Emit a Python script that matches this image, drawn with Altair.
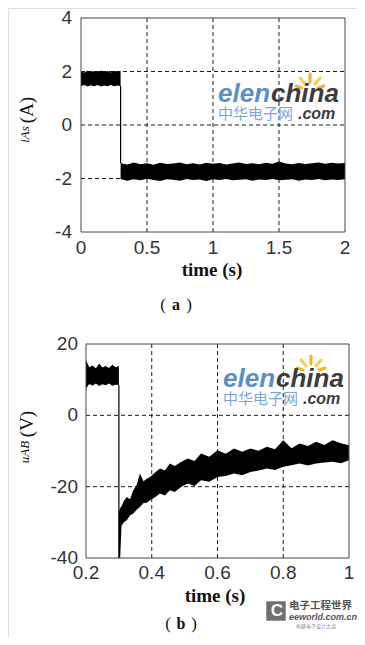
import altair as alt
import pandas as pd

# ---------------- data: panel (a) current i_As ----------------
a_t1 = [0, 0.025, 0.05, 0.075, 0.1, 0.125, 0.15, 0.175, 0.2, 0.225, 0.25, 0.275, 0.3]
a_hi1 = [2.0, 1.96, 2.03, 1.98, 2.02, 1.97, 2.04, 1.99, 2.02, 1.96, 2.03, 1.98, 2.02]
a_lo1 = [1.46, 1.5, 1.44, 1.49, 1.45, 1.5, 1.44, 1.48, 1.45, 1.5, 1.45, 1.48, 1.46]

a_t2 = [0.3, 0.35, 0.4, 0.45, 0.5, 0.55, 0.6, 0.65, 0.7, 0.75,
        0.8, 0.85, 0.9, 0.95, 1.0, 1.05, 1.1, 1.15, 1.2, 1.25,
        1.3, 1.35, 1.4, 1.45, 1.5, 1.55, 1.6, 1.65, 1.7, 1.75,
        1.8, 1.85, 1.9, 1.95, 2.0]
a_hi2 = [-1.42, -1.48, -1.40, -1.47, -1.43, -1.49, -1.41, -1.46, -1.44, -1.40,
         -1.47, -1.43, -1.48, -1.41, -1.45, -1.42, -1.48, -1.44, -1.40, -1.46,
         -1.43, -1.47, -1.41, -1.45, -1.36, -1.44, -1.47, -1.42, -1.46, -1.43,
         -1.40, -1.45, -1.41, -1.44, -1.42]
a_lo2 = [-2.02, -2.08, -2.03, -2.07, -2.01, -2.06, -2.09, -2.03, -2.05, -2.08,
         -2.02, -2.06, -2.04, -2.09, -2.03, -2.06, -2.02, -2.07, -2.05, -2.03,
         -2.08, -2.04, -2.06, -2.02, -2.07, -2.05, -2.03, -2.08, -2.04, -2.06,
         -2.02, -2.07, -2.04, -2.06, -2.03]
a_step_t = [0.3]
a_step_from = [1.46]
a_step_to = [-1.42]

a_xdomain = [0, 2]
a_ydomain = [-4, 4]
a_xticks = [0, 0.5, 1, 1.5, 2]
a_xlabels = ["0", "0.5", "1", "1.5", "2"]
a_yticks = [-4, -2, 0, 2, 4]
a_ylabels = ["-4", "-2", "0", "2", "4"]

# ---------------- data: panel (b) voltage u_AB ----------------
b_t1 = [0.2, 0.21, 0.22, 0.23, 0.24, 0.25, 0.26, 0.27, 0.28, 0.29, 0.3]
b_hi1 = [15.5, 13.5, 14.0, 13.2, 14.5, 13.4, 13.8, 13.3, 14.2, 13.5, 13.8]
b_lo1 = [7.5, 8.8, 8.3, 8.9, 8.2, 8.7, 8.4, 8.9, 8.3, 8.6, 8.5]

b_t2 = [0.300, 0.304, 0.308, 0.315, 0.324, 0.334, 0.344, 0.354, 0.364, 0.375,
        0.385, 0.395, 0.41, 0.425, 0.44, 0.455, 0.47, 0.49, 0.51, 0.53,
        0.55, 0.575, 0.6, 0.625, 0.65, 0.675, 0.7, 0.725, 0.75, 0.775,
        0.8, 0.825, 0.85, 0.875, 0.9, 0.925, 0.95, 0.975, 1.0]
b_hi2 = [-27, -26, -25.5, -24, -22.9, -23.5, -21, -19.5, -16.3, -18.5,
         -17.8, -17.3, -16.0, -14.9, -15.5, -13.5, -14.2, -13.0, -12.1, -12.8,
         -10.7, -11.6, -9.8, -10.8, -9.3, -10.2, -9.3, -9.9, -8.8, -9.5,
         -7.0, -9.2, -7.9, -8.6, -7.4, -8.3, -7.0, -7.8, -8.4]
b_lo2 = [-40, -40, -31, -30, -29.4, -28, -27.5, -26.5, -25.7, -24.6,
         -24.5, -23.8, -23.0, -21.9, -22.5, -21.0, -21.5, -20.0, -19.1, -19.8,
         -18.2, -18.6, -17.3, -17.0, -16.3, -16.8, -15.9, -15.5, -14.9, -15.3,
         -14.4, -14.0, -13.5, -14.1, -13.5, -13.2, -13.0, -13.4, -12.6]
b_step_t = [0.3]
b_step_from = [8.5]
b_step_to = [-40]

b_xdomain = [0.2, 1.0]
b_ydomain = [-40, 20]
b_xticks = [0.2, 0.4, 0.6, 0.8, 1.0]
b_xlabels = ["0.2", "0.4", "0.6", "0.8", "1"]
b_yticks = [-40, -20, 0, 20]
b_ylabels = ["-40", "-20", "0", "20"]

SERIF = "Liberation Serif"
SANS = "Liberation Sans"
CJK = "Noto Sans CJK SC"
one = pd.DataFrame({"k": [0]})

W, H = 349, 629   # whole drawing surface (page minus 8px margins)


def band_df(t1, hi1, lo1, t2, hi2, lo2):
    d1 = pd.DataFrame({"t": t1, "hi": hi1, "lo": lo1, "seg": "s1"})
    d2 = pd.DataFrame({"t": t2, "hi": hi2, "lo": lo2, "seg": "s2"})
    return pd.concat([d1, d2], ignore_index=True)


def txt(text, x, y, size, **kw):
    return alt.Chart(one).mark_text(text=text, fontSize=size, **kw).encode(
        x=alt.value(x), y=alt.value(y))


def ray(x1, y1, x2, y2, color):
    return alt.Chart(one).mark_rule(color=color, strokeWidth=3, strokeCap="round").encode(
        x=alt.value(x1), y=alt.value(y1), x2=alt.value(x2), y2=alt.value(y2))


def logo(x0, base, cx, cy):
    parts = []
    rays = [(-14, -4, -8, -2), (-10, -12, -5, -6), (0, -16, 0, -8),
            (10, -12, 5, -6), (14, -4, 8, -2)]
    cols = ["#f2b233", "#f7cf4a", "#f2b233", "#f7cf4a", "#f2b233"]
    for (dx1, dy1, dx2, dy2), c in zip(rays, cols):
        parts.append(ray(cx + dx1, cy + dy1, cx + dx2, cy + dy2, c))
    parts += [
        txt("elen", x0, base, 26, font=SANS, fontStyle="italic", fontWeight="bold",
            color="#5b8fc4", align="left", baseline="alphabetic"),
        txt("china", x0 + 53, base, 26, font=SANS, fontStyle="italic", fontWeight="bold",
            color="#3c3c3c", align="left", baseline="alphabetic"),
        txt("中华电子网", x0, base + 12, 15, font=CJK,
            color="#7aa5d6", align="left", baseline="middle"),
        txt(".com", x0 + 80, base + 17, 16, font=SANS, fontStyle="italic", fontWeight="bold",
            color="#3c3c3c", align="left", baseline="alphabetic"),
    ]
    return parts


def caption(letter, cx, cy):
    return [
        txt("(", cx - 13, cy, 17, font=SERIF, color="#111", align="center", baseline="middle"),
        txt(letter, cx, cy, 16, font=SERIF, fontWeight="bold", color="#111",
            align="center", baseline="middle"),
        txt(")", cx + 13, cy, 17, font=SERIF, color="#111", align="center", baseline="middle"),
    ]


def panel(band, steps, xdom, ydom, xrng, yrng, xticks, xlabels, yticks, ylabels,
          xlab_y, ylab_x):
    xs = alt.Scale(domain=xdom, range=xrng, nice=False, zero=False)
    ys = alt.Scale(domain=ydom, range=yrng, nice=False, zero=False)
    X = lambda f: alt.X(f, scale=xs, axis=None)
    Y = lambda f: alt.Y(f, scale=ys, axis=None)
    layers = []
    # grid (interior ticks only)
    gx = pd.DataFrame({"v": xticks[1:-1], "y0": ydom[0], "y1": ydom[1]})
    gy = pd.DataFrame({"v": yticks[1:-1], "x0": xdom[0], "x1": xdom[1]})
    layers.append(alt.Chart(gx).mark_rule(color="#1a1a1a", strokeWidth=1, strokeDash=[4, 3])
                  .encode(x=X("v:Q"), y=Y("y0:Q"), y2="y1:Q"))
    layers.append(alt.Chart(gy).mark_rule(color="#1a1a1a", strokeWidth=1, strokeDash=[4, 3])
                  .encode(y=Y("v:Q"), x=X("x0:Q"), x2="x1:Q"))
    # signal envelope
    layers.append(alt.Chart(band).mark_area(color="black")
                  .encode(x=X("t:Q"), y=Y("hi:Q"), y2="lo:Q", detail="seg:N"))
    layers.append(alt.Chart(steps).mark_rule(color="black", strokeWidth=1.2)
                  .encode(x=X("t:Q"), y=Y("y1:Q"), y2="y2:Q"))
    # frame
    fr = pd.DataFrame({"x0": [xdom[0]], "x1": [xdom[1]], "y0": [ydom[0]], "y1": [ydom[1]]})
    layers.append(alt.Chart(fr).mark_rect(fillOpacity=0, stroke="#444", strokeWidth=1)
                  .encode(x=X("x0:Q"), x2="x1:Q", y=Y("y0:Q"), y2="y1:Q"))
    # tick labels
    xl = pd.DataFrame({"v": xticks, "lbl": xlabels})
    yl = pd.DataFrame({"v": yticks, "lbl": ylabels})
    layers.append(alt.Chart(xl).mark_text(font=SANS, fontSize=19, color="#333",
                                          align="center", baseline="middle")
                  .encode(x=X("v:Q"), y=alt.value(xlab_y), text="lbl:N"))
    layers.append(alt.Chart(yl).mark_text(font=SANS, fontSize=19, color="#333",
                                          align="right", baseline="middle")
                  .encode(y=Y("v:Q"), x=alt.value(ylab_x), text="lbl:N"))
    return layers


# ---------------- panel (a) ----------------
da = band_df(a_t1, a_hi1, a_lo1, a_t2, a_hi2, a_lo2)
sa = pd.DataFrame({"t": a_step_t, "y1": a_step_from, "y2": a_step_to})
layers_a = panel(da, sa, a_xdomain, a_ydomain, [73, 337], [224, 10],
                 a_xticks, a_xlabels, a_yticks, a_ylabels, 239.5, 64)
texts_a = [
    txt("time (s)", 204, 261.5, 19, font=SERIF, fontWeight="bold", color="#111",
        align="center", baseline="middle"),
    *caption("a", 168, 297),
    txt("(A)", 19, 102, 19, font=SERIF, color="#111", angle=270,
        align="center", baseline="middle"),
    txt("iAs", 17, 126.5, 13, font=SERIF, fontStyle="italic", color="#111", angle=270,
        align="center", baseline="middle"),
]

# ---------------- panel (b) ----------------
db = band_df(b_t1, b_hi1, b_lo1, b_t2, b_hi2, b_lo2)
sb = pd.DataFrame({"t": b_step_t, "y1": b_step_from, "y2": b_step_to})
layers_b = panel(db, sb, b_xdomain, b_ydomain, [78, 341], [550, 336],
                 b_xticks, b_xlabels, b_yticks, b_ylabels, 564.5, 70)
texts_b = [
    txt("time (s)", 207, 587.5, 19, font=SERIF, fontWeight="bold", color="#111",
        align="center", baseline="middle"),
    *caption("b", 173, 616),
    txt("(V)", 19, 416, 19, font=SERIF, color="#111", angle=270,
        align="center", baseline="middle"),
    txt("uAB", 17, 444, 13, font=SERIF, fontStyle="italic", color="#111", angle=270,
        align="center", baseline="middle"),
]
ee = [
    alt.Chart(one).mark_square(size=380, color="#6f6f6f", opacity=1).encode(
        x=alt.value(268), y=alt.value(603)),
    txt("C", 269, 603, 17, font=SANS, fontWeight="bold", color="white",
        align="center", baseline="middle"),
    txt("电子工程世界", 281, 598, 10.5, font=CJK, fontWeight="bold",
        color="#555", align="left", baseline="middle"),
    txt("eeworld.com.cn", 281, 609, 9, font=SANS, fontStyle="italic", fontWeight="bold",
        color="#555", align="left", baseline="middle"),
    txt("构建电子设计之道", 288, 618, 5, font=CJK, color="#888",
        align="left", baseline="middle"),
]

chart = alt.layer(
    *layers_a, *logo(210, 94, 302, 82), *texts_a,
    *layers_b, *logo(215, 378.7, 303, 364), *texts_b, *ee,
).resolve_scale(x="independent", y="independent").properties(
    width=W, height=H,
    autosize=alt.AutoSizeParams(type="none"),
    padding=0,
).configure_view(stroke="transparent").configure(background="white")

chart.save("out.html", embed_options={"renderer": "svg", "actions": False})
